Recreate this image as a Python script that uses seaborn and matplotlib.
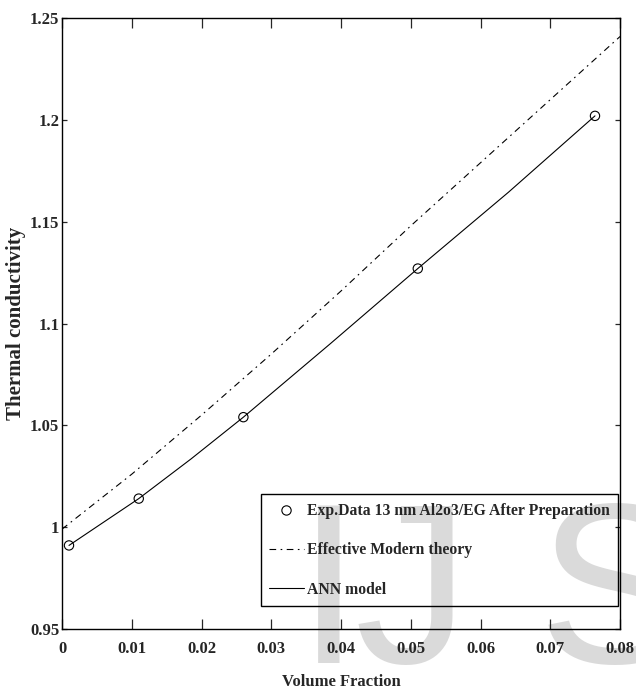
import matplotlib
matplotlib.use("Agg")
import matplotlib.pyplot as plt
import seaborn as sns

# experimental points (volume fraction, thermal conductivity)
exp_phi = [0.001, 0.011, 0.026, 0.051, 0.0764]
exp_k = [0.991, 1.014, 1.054, 1.127, 1.202]

# effective medium theory (dash-dot)
theory_phi = [0.0, 0.01, 0.02, 0.03, 0.04, 0.05, 0.06, 0.07, 0.08]
theory_k = [0.999, 1.026, 1.055, 1.085, 1.116, 1.148, 1.179, 1.210, 1.241]

# ANN model (solid)
ann_phi = [0.001, 0.011, 0.0185, 0.026, 0.0385, 0.051, 0.064, 0.0764]
ann_k = [0.991, 1.014, 1.0335, 1.054, 1.0902, 1.127, 1.1645, 1.202]

xticks = [0, 0.01, 0.02, 0.03, 0.04, 0.05, 0.06, 0.07, 0.08]
xtick_labels = ["0", "0.01", "0.02", "0.03", "0.04", "0.05", "0.06", "0.07", "0.08"]
yticks = [0.95, 1.0, 1.05, 1.1, 1.15, 1.2, 1.25]
ytick_labels = ["0.95", "1", "1.05", "1.1", "1.15", "1.2", "1.25"]

lbl_exp = "Exp.Data 13 nm Al2o3/EG After Preparation"
lbl_theory = "Effective Modern theory"
lbl_ann = "ANN model"

sns.set_style("ticks")
plt.rcParams["font.family"] = ["Liberation Serif", "DejaVu Serif"]
plt.rcParams["font.weight"] = "bold"

fig = plt.figure(figsize=(6.36, 6.98), dpi=100)
ax = fig.add_axes([0.0975, 0.099, 0.8775, 0.875])
ax.set_facecolor("none")

# watermark behind everything
wm = dict(fontsize=165, color="#dadada", family="Liberation Sans",
          weight="normal", va="baseline", ha="left", zorder=-5)
fig.text(0.466, 0.05, "I", **wm)
fig.text(0.557, 0.05, "J", **wm)
fig.text(0.845, 0.05, "S", **wm)

sns.lineplot(x=theory_phi, y=theory_k, color="black", lw=0.8,
             linestyle=(0, (6, 4, 1.5, 4)), label=lbl_theory, ax=ax)
sns.lineplot(x=ann_phi, y=ann_k, color="black", lw=0.8,
             label=lbl_ann, ax=ax)
sns.scatterplot(x=exp_phi, y=exp_k, marker="o", s=45, facecolors="none",
                edgecolors="black", linewidths=0.8, label=lbl_exp, ax=ax, zorder=3)

ax.set_xlim(0, 0.08)
ax.set_ylim(0.95, 1.25)
ax.set_xticks(xticks)
ax.set_xticklabels(xtick_labels, fontsize=12, fontweight="bold")
ax.set_yticks(yticks)
ax.set_yticklabels(ytick_labels, fontsize=12, fontweight="bold")
ax.tick_params(axis="x", direction="in", length=7, width=0.9, pad=9, top=True)
ax.tick_params(axis="y", direction="in", length=3.5, width=0.9, pad=2, right=True)
for sp in ax.spines.values():
    sp.set_visible(True)
    sp.set_linewidth(1.0)
    sp.set_color("black")

ax.set_xlabel("Volume Fraction", fontsize=12, fontweight="bold", labelpad=12)
ax.set_ylabel("Thermal conductivity", fontsize=15, fontweight="bold",
              va="center")
ax.yaxis.set_label_coords(-0.083, 0.50)

handles, labels = ax.get_legend_handles_labels()
order = [labels.index(lbl_exp), labels.index(lbl_theory), labels.index(lbl_ann)]
leg = ax.legend([handles[i] for i in order], [labels[i] for i in order],
                loc="lower right", bbox_to_anchor=(0.997, 0.037),
                fontsize=11.3, frameon=True, fancybox=False, framealpha=1,
                handlelength=2.2, handletextpad=0.2, labelspacing=1.5,
                borderpad=0.55, borderaxespad=0.0)
leg.get_frame().set_facecolor("none")
leg.get_frame().set_edgecolor("black")
leg.get_frame().set_linewidth(1.0)

fig.savefig("out.png", dpi=100)
